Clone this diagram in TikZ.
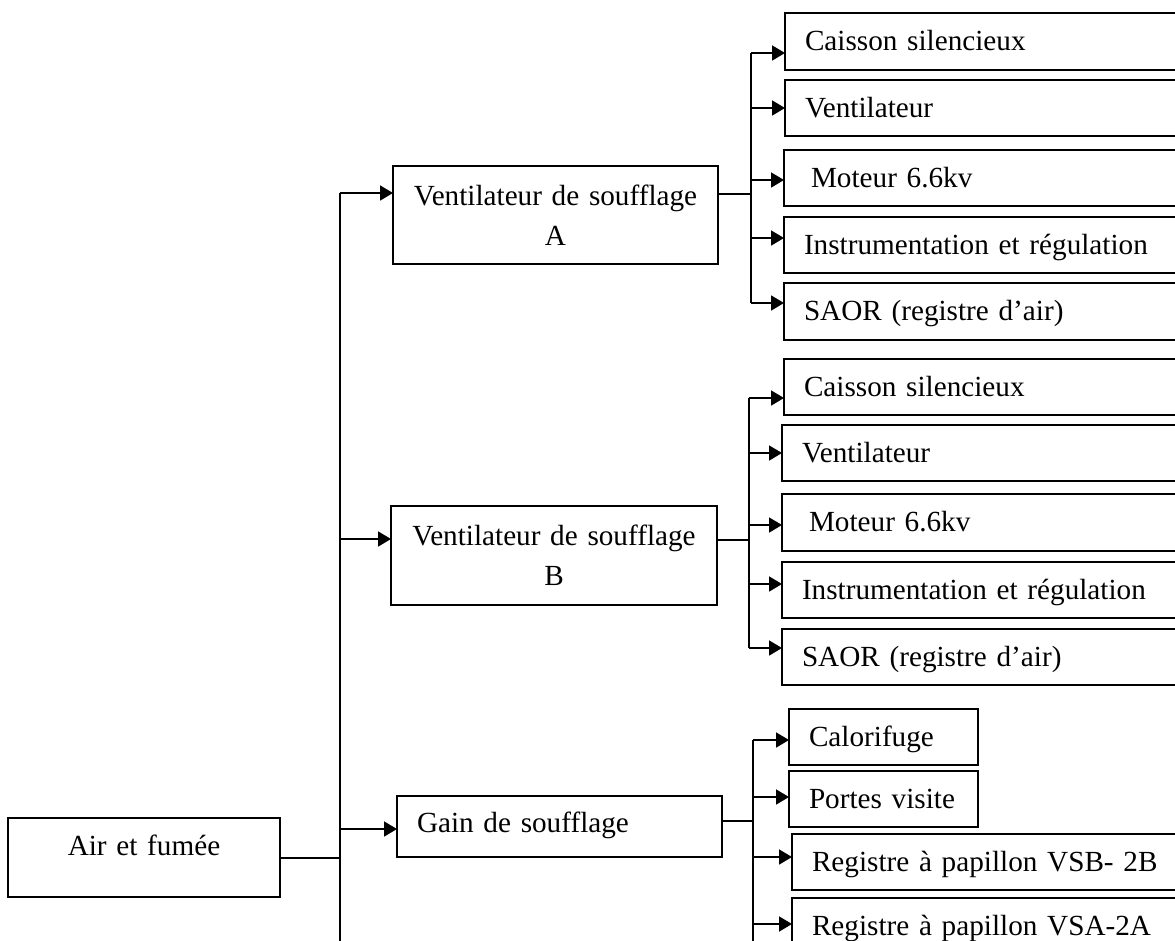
\documentclass[tikz,border=0pt]{standalone}
\usepackage{fontspec}
\setmainfont{Liberation Serif}
\usetikzlibrary{arrows.meta}
\newcommand{\fsz}{\fontsize{29.2pt}{40pt}\selectfont}
\tikzset{
  bx/.style={draw, line width=1.8pt, rectangle, inner ysep=0pt, outer sep=0pt, font=\fsz},
  lbox/.style={bx, align=left, inner xsep=20pt, text height=20pt, text depth=2pt},
  mbox/.style={bx, align=left, inner xsep=27pt, text height=20pt, text depth=2pt},
  cbox/.style={bx, align=center, inner xsep=10pt},
  ln/.style={line width=1.8pt},
  arr/.style={ln, -{Triangle[length=13pt,width=15pt]}},
}
\begin{document}
\begin{tikzpicture}[x=1pt,y=-1pt]
\useasboundingbox (0,0) rectangle (1175,940);

% main nodes
\node[cbox, minimum width=272pt, minimum height=79pt, text width=252pt, text height=20pt, text depth=25pt] (air) at (144,857.5) {Air et fumée};
\node[cbox, minimum width=325pt, minimum height=98pt, text width=305pt] (va) at (555.5,215) {Ventilateur de soufflage\\A};
\node[cbox, minimum width=326pt, minimum height=99pt, text width=306pt] (vb) at (554,555.5) {Ventilateur de soufflage\\B};
\node[lbox, minimum width=325pt, minimum height=61pt, text width=285pt, text depth=9pt] (gain) at (559.5,826.5) {Gain de soufflage};

% children of A
\node[lbox, minimum width=395pt, minimum height=57pt, text width=355pt] (a1) at (982.5,41.5) {Caisson silencieux};
\node[lbox, minimum width=395pt, minimum height=56pt, text width=355pt] (a2) at (982.5,108) {Ventilateur};
\node[mbox, minimum width=396pt, minimum height=56pt, text width=342pt] (a3) at (982,178) {Moteur 6.6kv};
\node[lbox, minimum width=396pt, minimum height=56pt, text width=356pt] (a4) at (982,245) {Instrumentation et régulation};
\node[lbox, minimum width=396pt, minimum height=57pt, text width=356pt] (a5) at (982,311.5) {SAOR (registre d’air)};

% children of B
\node[lbox, minimum width=396pt, minimum height=56pt, text width=356pt] (b1) at (982,387) {Caisson silencieux};
\node[lbox, minimum width=398pt, minimum height=56pt, text width=358pt] (b2) at (981,453) {Ventilateur};
\node[mbox, minimum width=398pt, minimum height=57pt, text width=344pt] (b3) at (981,522.5) {Moteur 6.6kv};
\node[lbox, minimum width=398pt, minimum height=56pt, text width=358pt] (b4) at (981,590) {Instrumentation et régulation};
\node[lbox, minimum width=398pt, minimum height=56pt, text width=358pt] (b5) at (981,657) {SAOR (registre d’air)};

% children of Gain
\node[lbox, minimum width=189pt, minimum height=56pt, text width=149pt] (g1) at (883.5,737) {Calorifuge};
\node[lbox, minimum width=189pt, minimum height=56pt, text width=149pt] (g2) at (883.5,799) {Portes visite};
\node[lbox, minimum width=388pt, minimum height=56pt, text width=348pt] (g3) at (986,862) {Registre à papillon VSB- 2B};
\node[lbox, minimum width=388pt, minimum height=57pt, text width=348pt] (g4) at (986,926.5) {Registre à papillon VSA-2A};

% trunk
\coordinate (tA) at (340,193);
\coordinate (tB) at (340,539);
\coordinate (tG) at (340,829);
\coordinate (tAir) at (340,858);
\coordinate (tEnd) at (340,950);
\draw[ln] (tA) -- (tEnd);
\draw[ln] (tAir -| air.east) -- (tAir);
\draw[arr] (tA) -- (tA -| va.west);
\draw[arr] (tB) -- (tB -| vb.west);
\draw[arr] (tG) -- (tG -| gain.west);

% bracket A
\coordinate (bA) at (751,194);
\coordinate (ya1) at (751,53);
\coordinate (ya2) at (751,108);
\coordinate (ya3) at (751,180);
\coordinate (ya4) at (751,238);
\coordinate (ya5) at (751,303);
\draw[ln] (bA -| va.east) -- (bA);
\draw[ln] (ya1) -- (ya5);
\draw[arr] (ya1) -- (ya1 -| a1.west);
\draw[arr] (ya2) -- (ya2 -| a2.west);
\draw[arr] (ya3) -- (ya3 -| a3.west);
\draw[arr] (ya4) -- (ya4 -| a4.west);
\draw[arr] (ya5) -- (ya5 -| a5.west);

% bracket B
\coordinate (bB) at (749,540);
\coordinate (yb1) at (749,398);
\coordinate (yb2) at (749,453);
\coordinate (yb3) at (749,525);
\coordinate (yb4) at (749,584);
\coordinate (yb5) at (749,648);
\draw[ln] (bB -| vb.east) -- (bB);
\draw[ln] (yb1) -- (yb5);
\draw[arr] (yb1) -- (yb1 -| b1.west);
\draw[arr] (yb2) -- (yb2 -| b2.west);
\draw[arr] (yb3) -- (yb3 -| b3.west);
\draw[arr] (yb4) -- (yb4 -| b4.west);
\draw[arr] (yb5) -- (yb5 -| b5.west);

% bracket Gain
\coordinate (bG) at (753,821);
\coordinate (yg1) at (753,740);
\coordinate (yg2) at (753,797);
\coordinate (yg3) at (753,857);
\coordinate (yg4) at (753,924);
\coordinate (ygEnd) at (753,950);
\draw[ln] (bG -| gain.east) -- (bG);
\draw[ln] (yg1) -- (ygEnd);
\draw[arr] (yg1) -- (yg1 -| g1.west);
\draw[arr] (yg2) -- (yg2 -| g2.west);
\draw[arr] (yg3) -- (yg3 -| g3.west);
\draw[arr] (yg4) -- (yg4 -| g4.west);
\end{tikzpicture}
\end{document}
